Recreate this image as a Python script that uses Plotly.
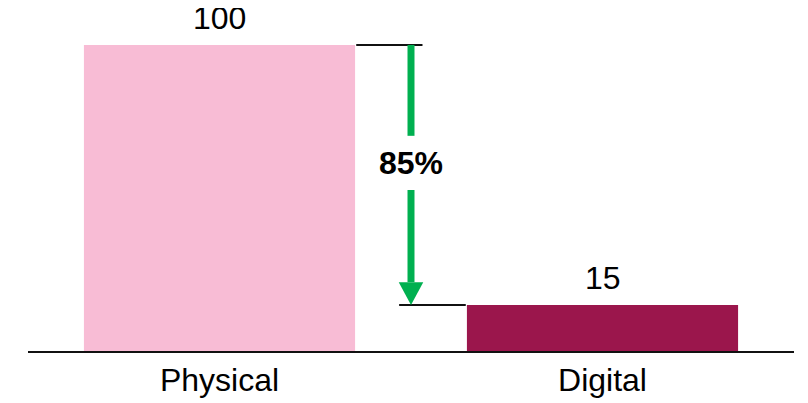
import plotly.graph_objects as go

# data
categories = ["Physical", "Digital"]
values = [100, 15]
bar_colors = ["#F8BCD5", "#9B164C"]

GREEN = "#00B050"
INK = "#111111"
FONT = "Arial, Liberation Sans, sans-serif"
FS = 32

top, bottom = values
drop_pct = round((top - bottom) / top * 100)

fig = go.Figure(
    go.Bar(
        x=categories,
        y=values,
        marker=dict(color=bar_colors, line=dict(width=0)),
        hoverinfo="skip",
    )
)

# value labels above each bar
for cat, v in zip(categories, values):
    fig.add_annotation(
        x=cat, y=v, text=str(v), showarrow=False,
        yanchor="bottom", yshift=7,
        font=dict(size=FS, color="#000000", family=FONT),
    )

# guide lines at bar tops (index 0.5 is the midpoint between the bars)
mid = 0.5
fig.add_shape(type="line", xref="x", yref="y", x0=0.357, x1=0.53, y0=top, y1=top,
              line=dict(color=INK, width=2))
fig.add_shape(type="line", xref="x", yref="y", x0=0.469, x1=0.643, y0=bottom, y1=bottom,
              line=dict(color=INK, width=2))

# arrow shaft, split around the label
fig.add_shape(type="line", xref="x", yref="y", x0=mid, x1=mid, y0=top, y1=70.3,
              line=dict(color=GREEN, width=7))
fig.add_shape(type="line", xref="x", yref="y", x0=mid, x1=mid, y0=52.6, y1=22.5,
              line=dict(color=GREEN, width=7))
# arrow head
hw = 0.032
fig.add_shape(
    type="path", xref="x", yref="y",
    path=f"M {mid - hw} 22.5 L {mid + hw} 22.5 L {mid} {bottom} Z",
    fillcolor=GREEN, line=dict(color=GREEN, width=0),
)

fig.add_annotation(
    x=mid, y=(70.3 + 52.6) / 2, xref="x", yref="y",
    text=f"<b>{drop_pct}%</b>", showarrow=False,
    font=dict(size=FS, color="#000000", family=FONT),
)

# margins allow for the page's default 8px body offset
fig.update_layout(
    width=808, height=403,
    margin=dict(l=20, r=22, t=6, b=60, autoexpand=False),
    plot_bgcolor="#FFFFFF", paper_bgcolor="#FFFFFF",
    bargap=0.292,
    showlegend=False,
    font=dict(family=FONT, color="#000000"),
    xaxis=dict(
        showline=True, linecolor=INK, linewidth=2,
        showgrid=False, zeroline=False, ticks="", automargin=False,
        tickfont=dict(size=FS, family=FONT, color="#000000"),
        range=[-0.5, 1.5],
    ),
    yaxis=dict(visible=False, range=[0, 110.1], showgrid=False, zeroline=False,
               automargin=False),
)

fig.write_html("out.html")
